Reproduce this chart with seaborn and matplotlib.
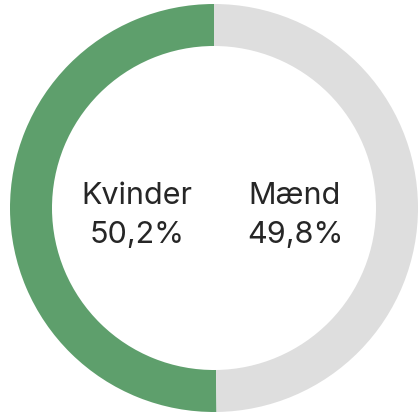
import matplotlib
matplotlib.use("Agg")
import matplotlib.pyplot as plt
import seaborn as sns

# Gender split
labels = ["Kvinder", "Mænd"]
shares = [50.2, 49.8]
share_labels = ["50,2%", "49,8%"]

sns.set_theme(style="white")
plt.rcParams["font.family"] = ["Inter", "DejaVu Sans"]

colors = ["#5e9f6c", "#dedede"]

W, H = 418, 414
fig = plt.figure(figsize=(W / 100, H / 100), dpi=100)
ax = fig.add_axes([0, 0, 1, 1])

cx, cy = 214, H - 209
radius = 204
ring = 42

ax.pie(shares, colors=colors, startangle=90, counterclock=True,
       radius=radius, center=(cx, cy),
       wedgeprops=dict(width=ring, linewidth=0))

ax.set_xlim(0, W)
ax.set_ylim(0, H)
ax.set_aspect("equal")
ax.axis("off")

text_x = [137, 295]
for x, lab, val in zip(text_x, labels, share_labels):
    ax.text(x, H - 204, lab, ha="center", va="baseline",
            fontsize=22, fontweight="normal", color="#262626")
    ax.text(x, H - 243, val, ha="center", va="baseline",
            fontsize=22, fontweight="normal", color="#262626")

fig.savefig("out.png", dpi=100)
